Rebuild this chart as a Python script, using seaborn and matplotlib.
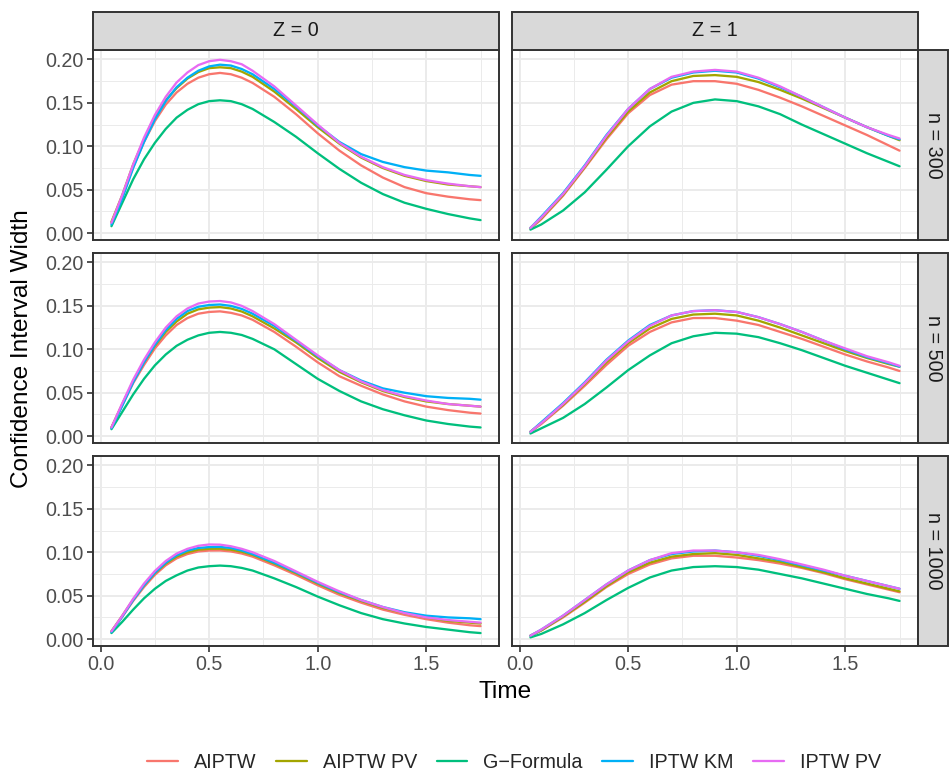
import numpy as np
import pandas as pd
import matplotlib
matplotlib.use("Agg")
import matplotlib.pyplot as plt
from matplotlib.lines import Line2D
from matplotlib.patches import Rectangle
from matplotlib.ticker import MultipleLocator
import seaborn as sns

sns.set_theme(style="white")
plt.rcParams['font.family'] = ['Liberation Sans', 'DejaVu Sans']

methods = ["AIPTW", "AIPTW PV", "G\u2212Formula", "IPTW KM", "IPTW PV"]
colors = ["#F8766D", "#A3A500", "#00BF7D", "#00B0F6", "#E76BF3"]
z_levels = ["Z = 0", "Z = 1"]
n_levels = ["n = 300", "n = 500", "n = 1000"]

time_z0 = [0.05, 0.1, 0.15, 0.2, 0.25, 0.3, 0.35, 0.4, 0.45, 0.5, 0.55, 0.6, 0.65, 0.7,
           0.8, 0.9, 1.0, 1.1, 1.2, 1.3, 1.4, 1.5, 1.6, 1.7, 1.75]
time_z1 = [0.05, 0.1, 0.2, 0.3, 0.4, 0.5, 0.6, 0.7, 0.8, 0.9, 1.0, 1.1, 1.2, 1.3, 1.4,
           1.5, 1.6, 1.7, 1.75]

# ---- Z = 0, n = 300
z0_n300_aiptw = [0.012, 0.042, 0.076, 0.105, 0.129, 0.148, 0.162, 0.172, 0.179, 0.183, 0.1845, 0.183, 0.179, 0.173, 0.157, 0.137, 0.115, 0.095, 0.078, 0.064, 0.053, 0.046, 0.042, 0.039, 0.038]
z0_n300_aiptwpv = [0.013, 0.044, 0.079, 0.108, 0.133, 0.153, 0.167, 0.178, 0.1855, 0.190, 0.191, 0.190, 0.186, 0.180, 0.163, 0.143, 0.122, 0.103, 0.087, 0.075, 0.066, 0.060, 0.056, 0.054, 0.053]
z0_n300_gform = [0.008, 0.035, 0.062, 0.085, 0.104, 0.120, 0.133, 0.142, 0.1485, 0.152, 0.153, 0.152, 0.1485, 0.143, 0.128, 0.111, 0.092, 0.074, 0.058, 0.045, 0.035, 0.028, 0.022, 0.017, 0.015]
z0_n300_iptwkm = [0.010, 0.040, 0.075, 0.105, 0.131, 0.152, 0.168, 0.179, 0.187, 0.192, 0.194, 0.193, 0.189, 0.183, 0.166, 0.146, 0.124, 0.105, 0.091, 0.082, 0.076, 0.072, 0.070, 0.067, 0.066]
z0_n300_iptwpv = [0.012, 0.044, 0.079, 0.110, 0.136, 0.157, 0.1735, 0.185, 0.1935, 0.198, 0.1996, 0.198, 0.1945, 0.187, 0.169, 0.147, 0.125, 0.104, 0.088, 0.076, 0.067, 0.061, 0.057, 0.054, 0.053]

# ---- Z = 0, n = 500
z0_n500_aiptw = [0.010, 0.036, 0.061, 0.082, 0.101, 0.116, 0.128, 0.136, 0.141, 0.143, 0.1437, 0.142, 0.139, 0.134, 0.120, 0.103, 0.085, 0.069, 0.058, 0.048, 0.040, 0.034, 0.030, 0.027, 0.026]
z0_n500_aiptwpv = [0.010, 0.037, 0.063, 0.085, 0.104, 0.120, 0.132, 0.141, 0.146, 0.148, 0.1486, 0.147, 0.1435, 0.138, 0.124, 0.108, 0.090, 0.074, 0.062, 0.052, 0.045, 0.040, 0.037, 0.035, 0.034]
z0_n500_gform = [0.008, 0.028, 0.048, 0.066, 0.0815, 0.094, 0.104, 0.111, 0.116, 0.119, 0.120, 0.119, 0.1165, 0.112, 0.100, 0.083, 0.066, 0.052, 0.040, 0.031, 0.024, 0.018, 0.014, 0.011, 0.010]
z0_n500_iptwkm = [0.009, 0.035, 0.062, 0.085, 0.105, 0.122, 0.135, 0.144, 0.149, 0.151, 0.1516, 0.150, 0.1465, 0.141, 0.127, 0.110, 0.092, 0.076, 0.064, 0.055, 0.050, 0.046, 0.044, 0.043, 0.042]
z0_n500_iptwpv = [0.010, 0.038, 0.065, 0.088, 0.108, 0.125, 0.138, 0.147, 0.1527, 0.155, 0.1556, 0.154, 0.150, 0.144, 0.129, 0.111, 0.093, 0.076, 0.063, 0.053, 0.046, 0.041, 0.037, 0.035, 0.034]

# ---- Z = 0, n = 1000
z0_n1000_aiptw = [0.009, 0.026, 0.044, 0.060, 0.074, 0.085, 0.093, 0.098, 0.101, 0.102, 0.1021, 0.101, 0.0986, 0.095, 0.085, 0.074, 0.062, 0.051, 0.042, 0.034, 0.028, 0.023, 0.019, 0.016, 0.015]
z0_n1000_aiptwpv = [0.009, 0.027, 0.0455, 0.062, 0.076, 0.087, 0.095, 0.100, 0.103, 0.104, 0.1041, 0.103, 0.1006, 0.097, 0.087, 0.076, 0.064, 0.053, 0.044, 0.036, 0.030, 0.025, 0.021, 0.019, 0.018]
z0_n1000_gform = [0.007, 0.020, 0.034, 0.047, 0.058, 0.067, 0.0735, 0.079, 0.0825, 0.084, 0.0847, 0.084, 0.082, 0.079, 0.070, 0.060, 0.049, 0.039, 0.030, 0.023, 0.018, 0.014, 0.011, 0.008, 0.007]
z0_n1000_iptwkm = [0.008, 0.026, 0.045, 0.062, 0.0765, 0.088, 0.0965, 0.102, 0.105, 0.106, 0.1062, 0.105, 0.1021, 0.098, 0.088, 0.077, 0.065, 0.054, 0.045, 0.037, 0.031, 0.027, 0.025, 0.024, 0.023]
z0_n1000_iptwpv = [0.009, 0.027, 0.0465, 0.064, 0.0785, 0.090, 0.0985, 0.104, 0.1075, 0.109, 0.1088, 0.107, 0.104, 0.100, 0.090, 0.078, 0.066, 0.055, 0.045, 0.037, 0.030, 0.025, 0.022, 0.020, 0.019]

# ---- Z = 1, n = 300
z1_n300_aiptw = [0.005, 0.016, 0.043, 0.075, 0.108, 0.138, 0.159, 0.171, 0.175, 0.175, 0.172, 0.165, 0.156, 0.146, 0.135, 0.124, 0.113, 0.101, 0.095]
z1_n300_aiptwpv = [0.006, 0.017, 0.044, 0.076, 0.110, 0.140, 0.162, 0.175, 0.181, 0.182, 0.180, 0.174, 0.165, 0.155, 0.144, 0.133, 0.122, 0.112, 0.107]
z1_n300_gform = [0.004, 0.010, 0.026, 0.047, 0.073, 0.100, 0.123, 0.140, 0.150, 0.154, 0.152, 0.146, 0.137, 0.125, 0.114, 0.103, 0.092, 0.082, 0.077]
z1_n300_iptwkm = [0.006, 0.019, 0.046, 0.078, 0.113, 0.143, 0.166, 0.179, 0.185, 0.187, 0.185, 0.178, 0.168, 0.157, 0.145, 0.133, 0.122, 0.112, 0.108]
z1_n300_iptwpv = [0.006, 0.018, 0.045, 0.077, 0.112, 0.143, 0.166, 0.180, 0.186, 0.188, 0.186, 0.179, 0.169, 0.157, 0.145, 0.133, 0.122, 0.113, 0.109]

# ---- Z = 1, n = 500
z1_n500_aiptw = [0.005, 0.014, 0.035, 0.058, 0.082, 0.104, 0.120, 0.131, 0.136, 0.136, 0.133, 0.128, 0.120, 0.112, 0.103, 0.094, 0.086, 0.079, 0.075]
z1_n500_aiptwpv = [0.005, 0.015, 0.036, 0.060, 0.085, 0.107, 0.124, 0.135, 0.140, 0.141, 0.139, 0.133, 0.125, 0.116, 0.107, 0.098, 0.090, 0.083, 0.080]
z1_n500_gform = [0.003, 0.009, 0.021, 0.037, 0.056, 0.076, 0.093, 0.107, 0.115, 0.119, 0.118, 0.114, 0.107, 0.099, 0.090, 0.081, 0.073, 0.065, 0.061]
z1_n500_iptwkm = [0.005, 0.016, 0.038, 0.062, 0.088, 0.110, 0.128, 0.139, 0.144, 0.145, 0.143, 0.137, 0.129, 0.120, 0.110, 0.100, 0.091, 0.084, 0.080]
z1_n500_iptwpv = [0.005, 0.015, 0.037, 0.061, 0.087, 0.109, 0.127, 0.139, 0.144, 0.145, 0.143, 0.137, 0.129, 0.120, 0.110, 0.101, 0.092, 0.085, 0.081]

# ---- Z = 1, n = 1000
z1_n1000_aiptw = [0.004, 0.010, 0.025, 0.042, 0.060, 0.075, 0.086, 0.093, 0.096, 0.096, 0.094, 0.091, 0.087, 0.082, 0.076, 0.069, 0.063, 0.057, 0.054]
z1_n1000_aiptwpv = [0.004, 0.010, 0.026, 0.043, 0.061, 0.077, 0.088, 0.095, 0.098, 0.099, 0.097, 0.093, 0.089, 0.083, 0.077, 0.070, 0.064, 0.058, 0.055]
z1_n1000_gform = [0.002, 0.006, 0.017, 0.030, 0.045, 0.059, 0.071, 0.079, 0.083, 0.084, 0.083, 0.080, 0.075, 0.070, 0.064, 0.058, 0.052, 0.047, 0.044]
z1_n1000_iptwkm = [0.004, 0.011, 0.027, 0.045, 0.063, 0.079, 0.091, 0.098, 0.101, 0.102, 0.100, 0.096, 0.091, 0.085, 0.079, 0.073, 0.067, 0.061, 0.058]
z1_n1000_iptwpv = [0.004, 0.011, 0.027, 0.045, 0.063, 0.079, 0.091, 0.099, 0.102, 0.102, 0.100, 0.097, 0.092, 0.086, 0.080, 0.073, 0.067, 0.061, 0.058]

series = {
    ("Z = 0", "n = 300"): [z0_n300_aiptw, z0_n300_aiptwpv, z0_n300_gform, z0_n300_iptwkm, z0_n300_iptwpv],
    ("Z = 0", "n = 500"): [z0_n500_aiptw, z0_n500_aiptwpv, z0_n500_gform, z0_n500_iptwkm, z0_n500_iptwpv],
    ("Z = 0", "n = 1000"): [z0_n1000_aiptw, z0_n1000_aiptwpv, z0_n1000_gform, z0_n1000_iptwkm, z0_n1000_iptwpv],
    ("Z = 1", "n = 300"): [z1_n300_aiptw, z1_n300_aiptwpv, z1_n300_gform, z1_n300_iptwkm, z1_n300_iptwpv],
    ("Z = 1", "n = 500"): [z1_n500_aiptw, z1_n500_aiptwpv, z1_n500_gform, z1_n500_iptwkm, z1_n500_iptwpv],
    ("Z = 1", "n = 1000"): [z1_n1000_aiptw, z1_n1000_aiptwpv, z1_n1000_gform, z1_n1000_iptwkm, z1_n1000_iptwpv],
}
times = {"Z = 0": time_z0, "Z = 1": time_z1}

rows = []
for (z, n), vals in series.items():
    for m, v in zip(methods, vals):
        for t, w in zip(times[z], v):
            rows.append({"Z": z, "n": n, "Method": m, "Time": t, "Width": w})
df = pd.DataFrame(rows)
palette = dict(zip(methods, colors))

W, H = 949, 773
fig = plt.figure(figsize=(W / 100, H / 100), dpi=100)
fig.patch.set_facecolor("white")

col_x = [(93, 499), (512, 918)]
row_y = [(50, 240), (253, 443), (456, 646)]
strip_top = 12
strip_right = 948

border_col = "#333333"
grid_col = "#EBEBEB"
tick_col = "#4D4D4D"
strip_fill = "#D9D9D9"
fs = 14.2
lw = 1.65

def fx(px):
    return px / W

def fy(py):
    return 1 - py / H

for ci, z in enumerate(z_levels):
    x0, x1 = col_x[ci]
    for ri, n in enumerate(n_levels):
        y0, y1 = row_y[ri]
        ax = fig.add_axes([fx(x0), fy(y1), fx(x1 - x0), (y1 - y0) / H])
        sub = df[(df["Z"] == z) & (df["n"] == n)]
        sns.lineplot(data=sub, x="Time", y="Width", hue="Method", hue_order=methods,
                     palette=palette, linewidth=lw, legend=False, ax=ax, sort=True)
        ax.set_xlim(-0.035, 1.835)
        ax.set_ylim(-0.0079, 0.2109)
        ax.xaxis.set_major_locator(MultipleLocator(0.5))
        ax.xaxis.set_minor_locator(MultipleLocator(0.25))
        ax.yaxis.set_major_locator(MultipleLocator(0.05))
        ax.yaxis.set_minor_locator(MultipleLocator(0.025))
        ax.grid(which="major", color=grid_col, linewidth=1.4)
        ax.grid(which="minor", color=grid_col, linewidth=0.7)
        ax.set_axisbelow(True)
        for s in ax.spines.values():
            s.set_color(border_col)
            s.set_linewidth(1.4)
        ax.set_xlabel("")
        ax.set_ylabel("")
        ax.tick_params(which="major", length=4, width=1.2, color=border_col,
                       labelcolor=tick_col, labelsize=fs, direction="out",
                       bottom=(ri == 2), left=(ci == 0), pad=2.5)
        ax.tick_params(which="minor", length=0)
        if ci == 0:
            ax.set_yticks([0, 0.05, 0.10, 0.15, 0.20])
            ax.set_yticklabels(["0.00", "0.05", "0.10", "0.15", "0.20"])
        else:
            ax.set_yticklabels([])
        if ri == 2:
            ax.set_xticks([0, 0.5, 1.0, 1.5])
            ax.set_xticklabels(["0.0", "0.5", "1.0", "1.5"])
        else:
            ax.set_xticklabels([])

        if ci == 1:
            rect = Rectangle((fx(x1), fy(y1)), fx(strip_right - x1), (y1 - y0) / H,
                             transform=fig.transFigure, facecolor=strip_fill,
                             edgecolor=border_col, linewidth=1.4, zorder=5)
            fig.add_artist(rect)
            fig.text(fx((x1 + strip_right) / 2), fy((y0 + y1) / 2), n, rotation=-90,
                     ha="center", va="center", fontsize=fs, color="#1A1A1A", zorder=6)
    rect = Rectangle((fx(x0), fy(row_y[0][0])), fx(x1 - x0), (row_y[0][0] - strip_top) / H,
                     transform=fig.transFigure, facecolor=strip_fill,
                     edgecolor=border_col, linewidth=1.4, zorder=5)
    fig.add_artist(rect)
    fig.text(fx((x0 + x1) / 2), fy((strip_top + row_y[0][0]) / 2), z,
             ha="center", va="center", fontsize=fs, color="#1A1A1A", zorder=6)

fig.text(fx(505), fy(692), "Time", ha="center", va="center", fontsize=17.6, color="black")
fig.text(fx(22), fy(349), "Confidence Interval Width", ha="center", va="center",
         rotation=90, fontsize=17.6, color="black")

handles = [Line2D([0], [0], color=c, linewidth=lw) for c in colors]
fig.legend(handles, methods, loc="center", bbox_to_anchor=(fx(514), fy(762)), ncol=5,
           frameon=False, fontsize=fs, handlelength=1.57, handletextpad=0.8,
           columnspacing=1.0)

fig.savefig("out.png", dpi=100, facecolor="white")
